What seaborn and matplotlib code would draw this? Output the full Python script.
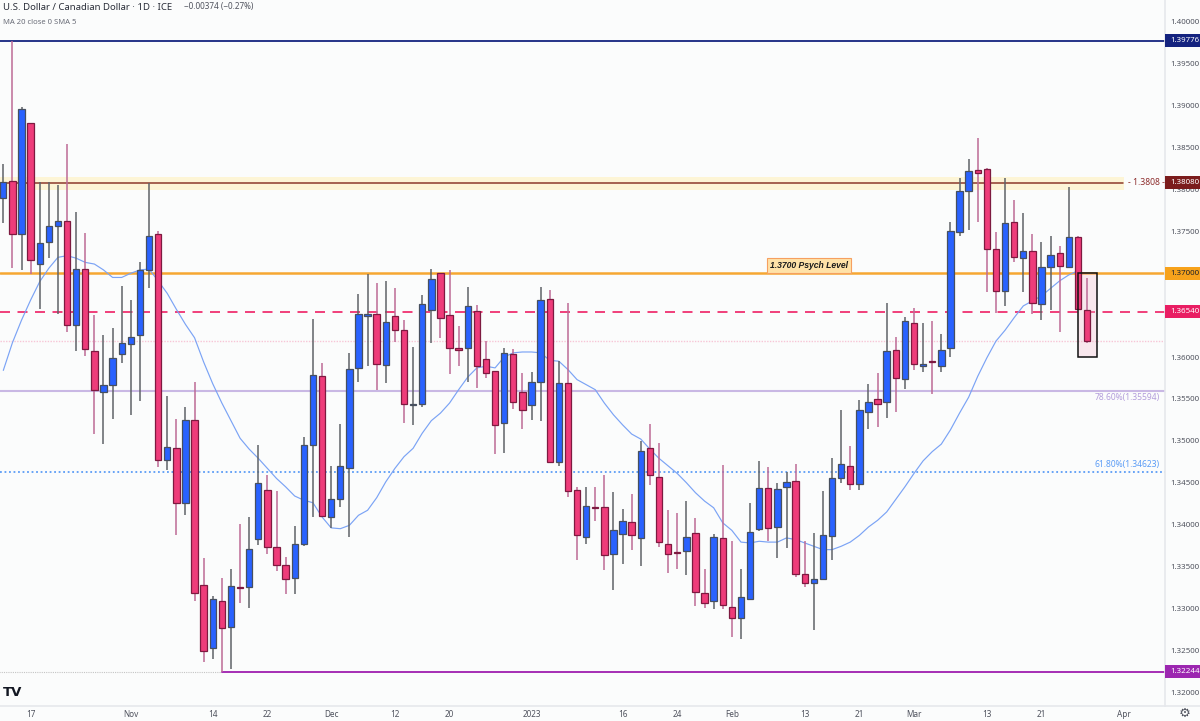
import numpy as np
import pandas as pd
import matplotlib
matplotlib.use("Agg")
import matplotlib.pyplot as plt
from matplotlib.patches import Rectangle
from matplotlib.transforms import blended_transform_factory
import seaborn as sns

# Daily USD/CAD candles (oldest first)
opens = [
    1.3790, 1.3810, 1.3747, 1.3879, 1.3711, 1.3737, 1.3756, 1.3762, 1.3638, 1.3705,
    1.3607, 1.3558, 1.3567, 1.3604, 1.3616, 1.3626, 1.3704, 1.3747, 1.3477, 1.3491,
    1.3426, 1.3525, 1.3328, 1.3253, 1.3309, 1.3278, 1.3325, 1.3325, 1.3383, 1.3441,
    1.3373, 1.3352, 1.3336, 1.3377, 1.3495, 1.3577, 1.3409, 1.3430, 1.3467, 1.3587,
    1.3649, 1.3651, 1.3590, 1.3649, 1.3632, 1.3543, 1.3544, 1.3656, 1.3700, 1.3650,
    1.3611, 1.3611, 1.3655, 1.3598, 1.3583, 1.3521, 1.3604, 1.3558, 1.3543, 1.3570,
    1.3669, 1.3475, 1.3569, 1.3441, 1.3385, 1.3421, 1.3421, 1.3365, 1.3389, 1.3403,
    1.3384, 1.3491, 1.3457, 1.3377, 1.3367, 1.3368, 1.3390, 1.3318, 1.3309, 1.3384,
    1.3301, 1.3288, 1.3311, 1.3395, 1.3444, 1.3397, 1.3445, 1.3452, 1.3341, 1.3330,
    1.3335, 1.3386, 1.3455, 1.3470, 1.3448, 1.3534, 1.3550, 1.3546, 1.3608, 1.3574,
    1.3641, 1.3589, 1.3595, 1.3589, 1.3611, 1.3749, 1.3798, 1.3823, 1.3824, 1.3729,
    1.3679, 1.3761, 1.3718, 1.3726, 1.3663, 1.3707, 1.3724, 1.3707, 1.3743, 1.3656,
]
highs = [
    1.3830, 1.3977, 1.3898, 1.3879, 1.3809, 1.3809, 1.3805, 1.3854, 1.3773, 1.3748,
    1.3650, 1.3626, 1.3635, 1.3685, 1.3668, 1.3713, 1.3808, 1.3750, 1.3553, 1.3526,
    1.3540, 1.3570, 1.3360, 1.3315, 1.3336, 1.3347, 1.3401, 1.3409, 1.3495, 1.3459,
    1.3440, 1.3361, 1.3398, 1.3504, 1.3645, 1.3593, 1.3470, 1.3520, 1.3605, 1.3675,
    1.3699, 1.3688, 1.3691, 1.3682, 1.3644, 1.3612, 1.3674, 1.3705, 1.3700, 1.3704,
    1.3637, 1.3684, 1.3662, 1.3619, 1.3583, 1.3611, 1.3610, 1.3581, 1.3582, 1.3684,
    1.3680, 1.3595, 1.3665, 1.3445, 1.3445, 1.3445, 1.3459, 1.3439, 1.3418, 1.3436,
    1.3500, 1.3520, 1.3497, 1.3417, 1.3414, 1.3428, 1.3408, 1.3347, 1.3389, 1.3471,
    1.3380, 1.3347, 1.3426, 1.3476, 1.3469, 1.3450, 1.3463, 1.3472, 1.3380, 1.3390,
    1.3440, 1.3479, 1.3537, 1.3494, 1.3549, 1.3568, 1.3581, 1.3665, 1.3624, 1.3648,
    1.3659, 1.3641, 1.3643, 1.3627, 1.3761, 1.3814, 1.3836, 1.3861, 1.3826, 1.3749,
    1.3814, 1.3787, 1.3772, 1.3747, 1.3737, 1.3744, 1.3733, 1.3803, 1.3744, 1.3694,
]
lows = [
    1.3760, 1.3706, 1.3704, 1.3699, 1.3657, 1.3718, 1.3651, 1.3630, 1.3607, 1.3601,
    1.3508, 1.3496, 1.3526, 1.3593, 1.3531, 1.3547, 1.3682, 1.3469, 1.3465, 1.3387,
    1.3411, 1.3309, 1.3236, 1.3239, 1.3224, 1.3227, 1.3306, 1.3300, 1.3376, 1.3365,
    1.3344, 1.3317, 1.3317, 1.3374, 1.3409, 1.3409, 1.3396, 1.3421, 1.3385, 1.3570,
    1.3589, 1.3561, 1.3569, 1.3618, 1.3521, 1.3519, 1.3540, 1.3617, 1.3623, 1.3580,
    1.3589, 1.3570, 1.3563, 1.3575, 1.3484, 1.3485, 1.3538, 1.3514, 1.3525, 1.3524,
    1.3473, 1.3470, 1.3433, 1.3358, 1.3377, 1.3404, 1.3346, 1.3322, 1.3353, 1.3370,
    1.3350, 1.3447, 1.3373, 1.3342, 1.3347, 1.3340, 1.3303, 1.3300, 1.3299, 1.3299,
    1.3266, 1.3263, 1.3310, 1.3392, 1.3380, 1.3360, 1.3372, 1.3337, 1.3325, 1.3274,
    1.3334, 1.3358, 1.3450, 1.3441, 1.3441, 1.3514, 1.3516, 1.3527, 1.3534, 1.3562,
    1.3585, 1.3582, 1.3556, 1.3582, 1.3600, 1.3744, 1.3752, 1.3761, 1.3678, 1.3653,
    1.3661, 1.3713, 1.3678, 1.3651, 1.3644, 1.3656, 1.3630, 1.3706, 1.3656, 1.3617,
]
closes = [
    1.3809, 1.3747, 1.3896, 1.3716, 1.3736, 1.3756, 1.3762, 1.3638, 1.3705, 1.3610,
    1.3561, 1.3567, 1.3599, 1.3617, 1.3624, 1.3704, 1.3744, 1.3477, 1.3493, 1.3426,
    1.3525, 1.3318, 1.3249, 1.3311, 1.3276, 1.3327, 1.3324, 1.3371, 1.3450, 1.3373,
    1.3352, 1.3335, 1.3377, 1.3495, 1.3578, 1.3410, 1.3430, 1.3470, 1.3586, 1.3651,
    1.3651, 1.3592, 1.3642, 1.3632, 1.3544, 1.3544, 1.3663, 1.3693, 1.3647, 1.3611,
    1.3608, 1.3661, 1.3589, 1.3581, 1.3519, 1.3605, 1.3546, 1.3537, 1.3570, 1.3668,
    1.3475, 1.3569, 1.3440, 1.3387, 1.3422, 1.3420, 1.3364, 1.3393, 1.3404, 1.3387,
    1.3488, 1.3459, 1.3379, 1.3365, 1.3366, 1.3385, 1.3319, 1.3306, 1.3385, 1.3304,
    1.3288, 1.3313, 1.3391, 1.3444, 1.3396, 1.3442, 1.3451, 1.3341, 1.3330, 1.3335,
    1.3387, 1.3455, 1.3472, 1.3448, 1.3537, 1.3546, 1.3544, 1.3607, 1.3575, 1.3643,
    1.3592, 1.3592, 1.3594, 1.3608, 1.3750, 1.3798, 1.3822, 1.3820, 1.3729, 1.3679,
    1.3760, 1.3719, 1.3727, 1.3664, 1.3707, 1.3722, 1.3709, 1.3743, 1.3657, 1.3619,
]

# MA 20 as drawn, one value per bar, stops a bar short of the last candle
ma20 = [
    1.3584, 1.3617, 1.3644, 1.3668, 1.3690, 1.3706, 1.3719, 1.3721, 1.3718, 1.3713,
    1.3711, 1.3704, 1.3695, 1.3695, 1.3700, 1.3704, 1.3705, 1.3691, 1.3676, 1.3657,
    1.3639, 1.3623, 1.3594, 1.3568, 1.3545, 1.3524, 1.3503, 1.3490, 1.3479, 1.3467,
    1.3455, 1.3445, 1.3434, 1.3429, 1.3426, 1.3409, 1.3396, 1.3395, 1.3399, 1.3411,
    1.3417, 1.3432, 1.3451, 1.3467, 1.3481, 1.3491, 1.3509, 1.3524, 1.3533, 1.3545,
    1.3561, 1.3576, 1.3587, 1.3589, 1.3587, 1.3600, 1.3605, 1.3606, 1.3606, 1.3605,
    1.3596, 1.3595, 1.3585, 1.3573, 1.3567, 1.3561, 1.3545, 1.3531, 1.3519, 1.3508,
    1.3502, 1.3490, 1.3479, 1.3470, 1.3461, 1.3450, 1.3438, 1.3428, 1.3420, 1.3402,
    1.3393, 1.3379, 1.3378, 1.3380, 1.3379, 1.3379, 1.3384, 1.3382, 1.3378, 1.3374,
    1.3370, 1.3370, 1.3374, 1.3379, 1.3387, 1.3397, 1.3405, 1.3415, 1.3430, 1.3445,
    1.3461, 1.3476, 1.3487, 1.3496, 1.3513, 1.3533, 1.3552, 1.3577, 1.3599, 1.3619,
    1.3632, 1.3647, 1.3661, 1.3667, 1.3673, 1.3682, 1.3691, 1.3698, 1.3703,
]

# Axis labels (1.37000 is hidden by its price tag in the chart, so no tick)
y_ticks = [1.32, 1.325, 1.33, 1.335, 1.34, 1.345, 1.35, 1.355, 1.36, 1.365,
           1.375, 1.38, 1.385, 1.39, 1.395, 1.40]
x_tick_bars = [3, 14, 23, 29, 36, 43, 49, 58, 68, 74, 80, 88, 94, 100, 108, 114, 123]
x_tick_labels = ["17", "Nov", "14", "22", "Dec", "12", "20", "2023", "16", "24",
                 "Feb", "13", "21", "Mar", "13", "21", "Apr"]

# Drawn levels
level_top = 1.39776
level_res = 1.3808
band_res = (1.3799, 1.3815)
level_psych = 1.37
level_dash = 1.3654
level_last = 1.3619
level_fib78 = 1.35594
level_fib61 = 1.34623
level_low = 1.32244
box_prices = (1.36, 1.37)

BLUE = "#2962ff"
PINK = "#ee3c7a"
BG = "#fbfcfc"
PX = 0.0001194  # price per pixel, used for small label offsets

sns.set_theme(style="white")
plt.rcParams["font.family"] = ["Noto Sans", "DejaVu Sans"]

df = pd.DataFrame({"bar": np.arange(len(opens)), "open": opens, "high": highs,
                   "low": lows, "close": closes})
df["up"] = df["close"] >= df["open"]
df["body_low"] = df[["open", "close"]].min(axis=1)
df["body_h"] = (df["close"] - df["open"]).abs()

fig = plt.figure(figsize=(12, 7.21), dpi=100, facecolor=BG)
ax = fig.add_axes([0, 15 / 721, 1165 / 1200, 706 / 721], facecolor=BG)

# levels sit behind the candles
ax.axhspan(band_res[0], band_res[1], xmin=0, xmax=1124 / 1165, color="#fdf5d6", lw=0, zorder=1)
ax.axhline(level_top, color="#14237f", lw=1.3, zorder=1.2)
ax.plot([-1, 123], [level_res, level_res], color="#8c3a2c", lw=1.1, zorder=1.2)
ax.axhline(level_psych, color="#f6a732", lw=1.8, zorder=1.2)
ax.axhline(level_dash, color="#ee1f64", lw=1.2, dashes=(6, 4.5), zorder=1.2)
ax.axhline(level_last, color="#f7c6d6", lw=1, ls=(0, (1, 1)), zorder=1.2)
ax.axhline(level_fib78, color="#c9b8e4", lw=1.5, zorder=1.2)
ax.axhline(level_fib61, color="#5b9cf6", lw=1.3, ls=(0, (1, 1.5)), zorder=1.2)
ax.plot([-1, 24], [level_low, level_low], color="#c4c4c4", lw=0.8, ls=(0, (1, 1)), zorder=1.2)
ax.plot([24, 128], [level_low, level_low], color="#a52eb5", lw=1.4, zorder=1.2)

ax.add_patch(Rectangle((118, box_prices[0]), 2.1, box_prices[1] - box_prices[0],
                       facecolor="#f3b8cc", alpha=0.3, edgecolor="none", zorder=1.3))
sns.lineplot(x=np.arange(len(ma20)), y=ma20, color="#7ba3f5", lw=0.85, ax=ax, zorder=1.5)

# candles: wicks first, bodies on top
for is_up, wick, body, edge in ((True, "#5f6368", BLUE, "#47505f"), (False, "#bd6a96", PINK, "#7d1a40")):
    part = df[df["up"] == is_up]
    ax.vlines(part["bar"], part["low"], part["high"], color=wick, lw=1.1, zorder=2)
    sns.barplot(data=part, x="bar", y="body_h", bottom=part["body_low"], color=body, saturation=1,
                native_scale=True, width=0.7, edgecolor=edge, linewidth=0.9, errorbar=None,
                ax=ax, zorder=3)

ax.add_patch(Rectangle((118, box_prices[0]), 2.1, box_prices[1] - box_prices[0],
                       fill=False, edgecolor="#111111", lw=1.1, zorder=4.1))

ax.set_xlim(-3.3 / 9.107, (1165 - 3.3) / 9.107)
ax.set_ylim(1.40 - 684 * PX, 1.40 + 22 * PX)
ax.set_xlabel("")
ax.set_ylabel("")
ax.yaxis.tick_right()
ax.set_yticks(y_ticks, [f"{v:.5f}" for v in y_ticks])
ax.set_xticks(x_tick_bars, x_tick_labels)
ax.tick_params(axis="y", length=0, labelsize=5.7, labelcolor="#50535e", pad=4)
ax.tick_params(axis="x", length=0, labelsize=5.9, labelcolor="#50535e", pad=3)
for side in ("top", "left"):
    ax.spines[side].set_visible(False)
for side in ("right", "bottom"):
    ax.spines[side].set_color("#e6e8ec")
    ax.spines[side].set_linewidth(1.2)
fig.add_artist(plt.Line2D([1165 / 1200, 1], [15 / 721, 15 / 721], color="#e6e8ec", lw=1.2))

# price tags on the right axis
tags = [(level_top, "1.39776", "#14237f", "white"),
        (level_res, "1.38080", "#7b1c1c", "white"),
        (level_psych, "1.37000", "#f7a21b", "#20222a"),
        (level_dash, "1.36540", "#e91e63", "white"),
        (level_low, "1.32244", "#9c27b0", "white")]
tag_tr = blended_transform_factory(ax.transAxes, ax.transData)
for price, txt, bg, fg in tags:
    ax.add_patch(Rectangle((1, price - 6.5 * PX), 35 / 1165, 13 * PX, transform=tag_tr, fc=bg, ec="none",
                           clip_on=False, zorder=9))
    ax.text(1 + 20 / 1165, price, txt, transform=tag_tr, ha="center", va="center", fontsize=5.7,
            fontweight="bold", color=fg, zorder=10, clip_on=False)

# labels on the chart
ax.text(123.5, level_res, "- 1.3808 -", color="#8c2b2b", fontsize=6.2, fontweight="medium",
        va="center", ha="left", zorder=5)
ax.text(88.47, 1.37093, "1.3700 Psych Level", fontsize=6.2, fontstyle="italic", fontweight="bold",
        family=["Liberation Sans"], color="#1c1c1c", ha="center", va="center", zorder=5,
        bbox=dict(boxstyle="square,pad=0.35", fc="#ffe2a8", ec="#f6a060", lw=0.8))
ax.text(127, level_fib78 - 0.0008, "78.60%(1.35594)", color="#b39ddb", fontsize=6.1, ha="right", va="center", zorder=5)
ax.text(127, level_fib61 + 0.0009, "61.80%(1.34623)", color="#5b9cf6", fontsize=6.1, ha="right", va="center", zorder=5)

# header
fig.text(3 / 1200, 1 - 7 / 721, "U.S. Dollar / Canadian Dollar · 1D · ICE", fontsize=6.9, color="#2a2e39", va="center")
fig.text(184 / 1200, 1 - 7 / 721, "−0.00374 (−0.27%)", fontsize=5.9, color="#50535e", va="center")
fig.text(3 / 1200, 1 - 22 / 721, "MA 20 close 0 SMA 5", fontsize=5.5, color="#6a6d78", va="center")

# corner marks
fig.text(3 / 1200, 1 - 693 / 721, "TV", fontsize=9.5, fontweight="bold", color="#131722", va="center",
         family=["DejaVu Sans"])
fig.text(1185 / 1200, 1 - 713 / 721, "\u2699", fontsize=9.5, color="#50535e", va="center", ha="center",
         family=["DejaVu Sans"])

fig.savefig("out.png", dpi=100, facecolor=BG)
